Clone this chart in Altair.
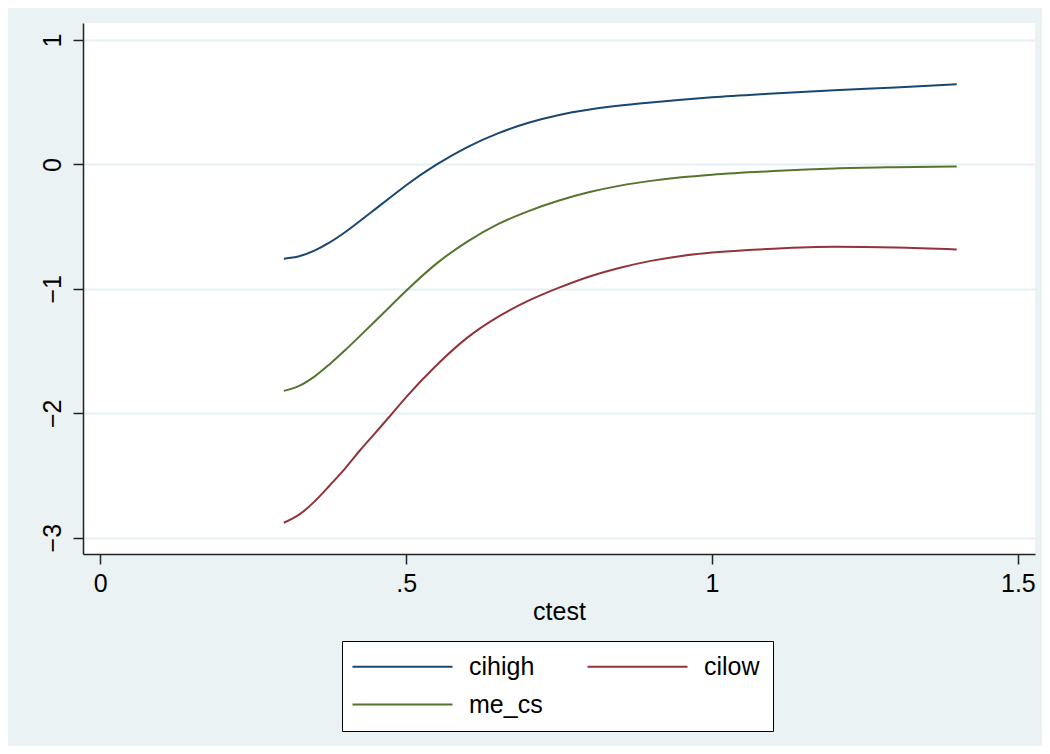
import altair as alt
import pandas as pd

# ---- data ----
ctest = [0.30, 0.325, 0.35, 0.375, 0.40, 0.425, 0.45, 0.475, 0.50, 0.55, 0.60,
         0.65, 0.70, 0.75, 0.80, 0.85, 0.90, 0.95, 1.00, 1.10, 1.20, 1.30, 1.40]
cihigh = [-0.757, -0.738, -0.693, -0.627, -0.545, -0.452, -0.357, -0.262, -0.167,
          0.000, 0.140, 0.250, 0.335, 0.398, 0.441, 0.473, 0.498, 0.521, 0.540,
          0.570, 0.597, 0.619, 0.645]
me_cs = [-1.820, -1.780, -1.705, -1.605, -1.494, -1.376, -1.256, -1.135, -1.015,
         -0.795, -0.620, -0.480, -0.375, -0.290, -0.222, -0.170, -0.132, -0.103,
         -0.082, -0.053, -0.032, -0.022, -0.016]
cilow = [-2.880, -2.815, -2.710, -2.580, -2.445, -2.295, -2.155, -2.014, -1.870,
         -1.612, -1.392, -1.225, -1.095, -0.990, -0.900, -0.830, -0.775, -0.735,
         -0.708, -0.677, -0.662, -0.667, -0.683]

series_names = ["cihigh", "cilow", "me_cs"]
series_colors = ["#1A476F", "#90353B", "#55752F"]

x_tick_values = [0, 0.5, 1, 1.5]
x_tick_labels = ["0", ".5", "1", "1.5"]
y_tick_values = [-3, -2, -1, 0, 1]

rows = []
for name, vals in zip(["cihigh", "me_cs", "cilow"], [cihigh, me_cs, cilow]):
    for xv, yv in zip(ctest, vals):
        rows.append({"ctest": xv, "value": yv, "series": name})
df = pd.DataFrame(rows)

label_expr = " : ".join(
    f"datum.value == {v} ? '{l}'" for v, l in zip(x_tick_values[:-1], x_tick_labels[:-1])
) + f" : '{x_tick_labels[-1]}'"

FONT = "Liberation Sans"

chart = alt.Chart(df).mark_line(strokeWidth=2, interpolate="monotone").encode(
    x=alt.X("ctest:Q",
            scale=alt.Scale(domain=[-0.0283, 1.528], nice=False, zero=False),
            axis=alt.Axis(values=x_tick_values, labelExpr=label_expr, grid=False,
                          title="ctest", titleY=65, titleBaseline="alphabetic",
                          labelFlush=False, labelOverlap=False, labelPadding=7)),
    y=alt.Y("value:Q",
            scale=alt.Scale(domain=[-3.131, 1.137], nice=False, zero=False),
            axis=alt.Axis(values=y_tick_values, format="d", grid=True, title=None,
                          labelAngle=270, labelAlign="center", labelBaseline="bottom",
                          labelPadding=8, labelFlush=False)),
    color=alt.Color("series:N", title=None,
                    scale=alt.Scale(domain=series_names, range=series_colors),
                    legend=alt.Legend(orient="none", legendX=259, legendY=618,
                                      direction="horizontal", columns=2,
                                      symbolType="M-1.5,0H8.5", symbolSize=400,
                                      symbolStrokeWidth=2, labelFontSize=25, labelFont=FONT,
                                      labelColor="black", labelOffset=89,
                                      columnPadding=40, rowPadding=12, padding=13,
                                      fillColor="white", strokeColor="black")),
).properties(
    width=952, height=531,
    autosize=alt.AutoSizeParams(type="none"),
    padding={"left": 75, "top": 15, "right": 7, "bottom": 192},
    background="#EAF2F3",
).configure_view(
    fill="white", strokeWidth=0
).configure_axis(
    labelFont=FONT, titleFont=FONT, labelFontSize=25, titleFontSize=25,
    titleFontWeight="normal", labelColor="black", titleColor="black",
    domainColor="#222222", domainWidth=1.5, tickColor="#222222", tickWidth=1.5,
    tickSize=10, gridColor="#E6EFF1", gridWidth=2
)

chart.save("out.html", embed_options={"renderer": "svg", "actions": False})
